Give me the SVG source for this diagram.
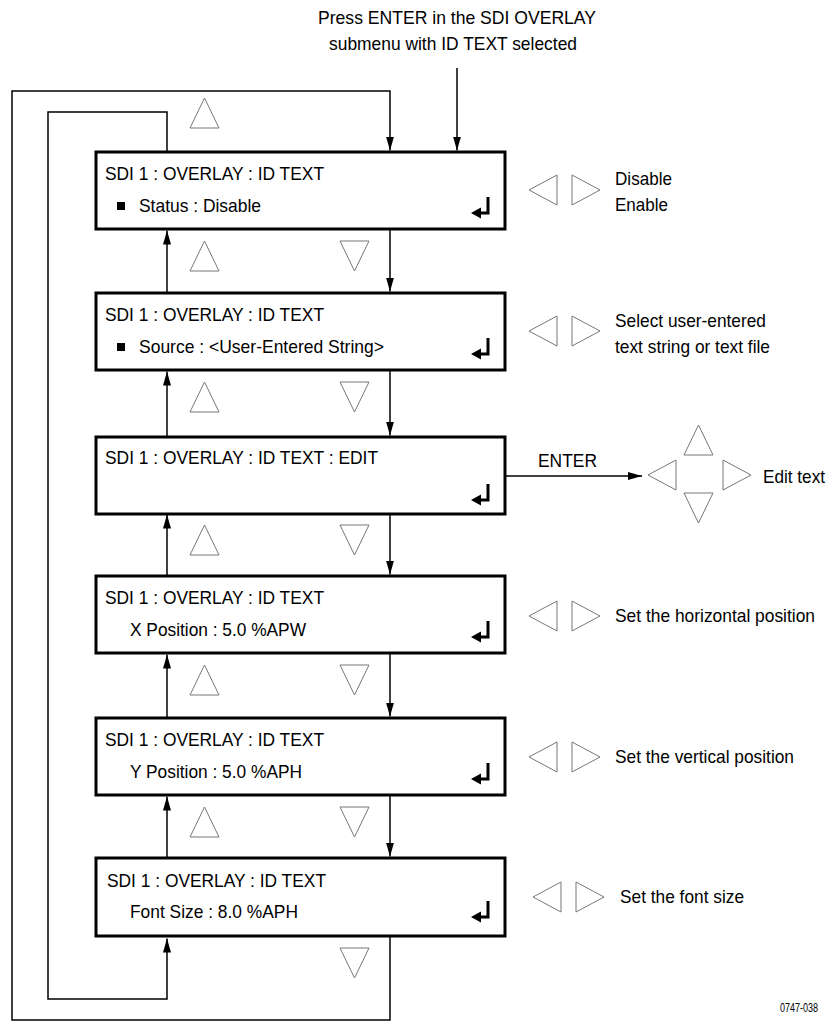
<svg xmlns="http://www.w3.org/2000/svg" xmlns:xlink="http://www.w3.org/1999/xlink" width="830" height="1021" viewBox="0 0 830 1021">
<style>
.box{fill:#fff;stroke:#000;stroke-width:3}
.t{font-family:"Liberation Sans",Arial,sans-serif;font-size:19px;fill:#000}
.s{font-family:"Liberation Sans",Arial,sans-serif;font-size:12px;fill:#000}
.tri{fill:#fff;stroke:#777;stroke-width:1}
.c{fill:none;stroke:#000;stroke-width:1.5}
</style>
<defs>
<marker id="ah" markerUnits="userSpaceOnUse" markerWidth="14" markerHeight="8" refX="14" refY="4" orient="auto">
<path d="M0,0 L14,4 L0,8 Z" fill="#000"/>
</marker>
<path id="up" class="tri" d="M14.5,0 L29,30 L0,30 Z"/>
<path id="dn" class="tri" d="M0,0 L29,0 L14.5,30 Z"/>
<path id="lt" class="tri" d="M0,15 L28,0 L28,30 Z"/>
<path id="rt" class="tri" d="M0,0 L28,15 L0,30 Z"/>
<g id="enter">
<path d="M488,45 L488,61 L479,61" fill="none" stroke="#000" stroke-width="3"/>
<path d="M471,61 L481,55.5 L481,66.5 Z" fill="#000"/>
</g>
</defs>

<g id="header">
<text class="t" x="318" y="24" textLength="278" lengthAdjust="spacingAndGlyphs">Press ENTER in the SDI OVERLAY</text>
<text class="t" x="329" y="50" textLength="248" lengthAdjust="spacingAndGlyphs">submenu with ID TEXT selected</text>
</g>

<g id="connectors">
<path class="c" d="M457,68 L457,150.5" marker-end="url(#ah)"/>
<path class="c" d="M390,936 L390,1020 L12,1020 L12,91 L390,91 L390,150.5" marker-end="url(#ah)"/>
<path class="c" d="M167,152 L167,112 L48,112 L48,999 L167,999 L167,938.5" marker-end="url(#ah)"/>
<path class="c" d="M390,229 L390,291.5" marker-end="url(#ah)"/>
<path class="c" d="M390,370 L390,435.5" marker-end="url(#ah)"/>
<path class="c" d="M390,513 L390,574.5" marker-end="url(#ah)"/>
<path class="c" d="M390,653 L390,716.5" marker-end="url(#ah)"/>
<path class="c" d="M390,795 L390,856.5" marker-end="url(#ah)"/>
<path class="c" d="M167,293 L167,230.5" marker-end="url(#ah)"/>
<path class="c" d="M167,437 L167,371.5" marker-end="url(#ah)"/>
<path class="c" d="M167,576 L167,514.5" marker-end="url(#ah)"/>
<path class="c" d="M167,718 L167,654.5" marker-end="url(#ah)"/>
<path class="c" d="M167,858 L167,796.5" marker-end="url(#ah)"/>
<path class="c" d="M505,476 L642,476" marker-end="url(#ah)"/>
<text class="t" x="538" y="467" textLength="59" lengthAdjust="spacingAndGlyphs">ENTER</text>
</g>

<g id="nav-triangles">
<use href="#up" x="190" y="98"/>
<use href="#up" x="190" y="241"/><use href="#dn" x="340" y="241"/>
<use href="#up" x="190" y="382"/><use href="#dn" x="340" y="382"/>
<use href="#up" x="190" y="525"/><use href="#dn" x="340" y="525"/>
<use href="#up" x="190" y="665"/><use href="#dn" x="340" y="665"/>
<use href="#up" x="190" y="807"/><use href="#dn" x="340" y="807"/>
<use href="#dn" x="340" y="948"/>
</g>

<g id="box1">
<rect class="box" x="96" y="152" width="409" height="77"/>
<text class="t" x="105" y="180" textLength="219" lengthAdjust="spacingAndGlyphs">SDI 1 : OVERLAY : ID TEXT</text>
<rect x="117" y="202" width="8" height="8" fill="#000"/>
<text class="t" x="139" y="212" textLength="122" lengthAdjust="spacingAndGlyphs">Status : Disable</text>
<use href="#enter" y="152"/>
<use href="#lt" x="529" y="175"/><use href="#rt" x="572" y="175"/>
<text class="t" x="615" y="185" textLength="57" lengthAdjust="spacingAndGlyphs">Disable</text>
<text class="t" x="615" y="211" textLength="53" lengthAdjust="spacingAndGlyphs">Enable</text>
</g>

<g id="box2">
<rect class="box" x="96" y="293" width="409" height="77"/>
<text class="t" x="105" y="321" textLength="219" lengthAdjust="spacingAndGlyphs">SDI 1 : OVERLAY : ID TEXT</text>
<rect x="117" y="343" width="8" height="8" fill="#000"/>
<text class="t" x="139" y="353" textLength="245" lengthAdjust="spacingAndGlyphs">Source : &lt;User-Entered String&gt;</text>
<use href="#enter" y="293"/>
<use href="#lt" x="529" y="316"/><use href="#rt" x="572" y="316"/>
<text class="t" x="615" y="327" textLength="151" lengthAdjust="spacingAndGlyphs">Select user-entered</text>
<text class="t" x="615" y="353" textLength="155" lengthAdjust="spacingAndGlyphs">text string or text file</text>
</g>

<g id="box3">
<rect class="box" x="96" y="437" width="409" height="77"/>
<text class="t" x="105" y="464" textLength="273" lengthAdjust="spacingAndGlyphs">SDI 1 : OVERLAY : ID TEXT : EDIT</text>
<use href="#enter" y="439"/>
<use href="#lt" x="648" y="460"/><use href="#up" x="684" y="425"/>
<use href="#rt" x="723" y="460"/><use href="#dn" x="684" y="493"/>
<text class="t" x="763" y="483" textLength="62" lengthAdjust="spacingAndGlyphs">Edit text</text>
</g>

<g id="box4">
<rect class="box" x="96" y="576" width="409" height="77"/>
<text class="t" x="105" y="604" textLength="219" lengthAdjust="spacingAndGlyphs">SDI 1 : OVERLAY : ID TEXT</text>
<text class="t" x="130" y="636" textLength="176" lengthAdjust="spacingAndGlyphs">X Position : 5.0 %APW</text>
<use href="#enter" y="576"/>
<use href="#lt" x="529" y="601"/><use href="#rt" x="572" y="601"/>
<text class="t" x="615" y="622" textLength="200" lengthAdjust="spacingAndGlyphs">Set the horizontal position</text>
</g>

<g id="box5">
<rect class="box" x="96" y="718" width="409" height="77"/>
<text class="t" x="105" y="746" textLength="219" lengthAdjust="spacingAndGlyphs">SDI 1 : OVERLAY : ID TEXT</text>
<text class="t" x="130" y="778" textLength="172" lengthAdjust="spacingAndGlyphs">Y Position : 5.0 %APH</text>
<use href="#enter" y="718"/>
<use href="#lt" x="529" y="742"/><use href="#rt" x="572" y="742"/>
<text class="t" x="615" y="763" textLength="179" lengthAdjust="spacingAndGlyphs">Set the vertical position</text>
</g>

<g id="box6">
<rect class="box" x="96" y="858" width="409" height="78"/>
<text class="t" x="107" y="887" textLength="219" lengthAdjust="spacingAndGlyphs">SDI 1 : OVERLAY : ID TEXT</text>
<text class="t" x="130" y="918" textLength="168" lengthAdjust="spacingAndGlyphs">Font Size : 8.0 %APH</text>
<use href="#enter" y="856"/>
<use href="#lt" x="533" y="882"/><use href="#rt" x="576" y="882"/>
<text class="t" x="620" y="903" textLength="124" lengthAdjust="spacingAndGlyphs">Set the font size</text>
</g>

<text class="s" x="780" y="1012" textLength="38" lengthAdjust="spacingAndGlyphs">0747-038</text>
</svg>
